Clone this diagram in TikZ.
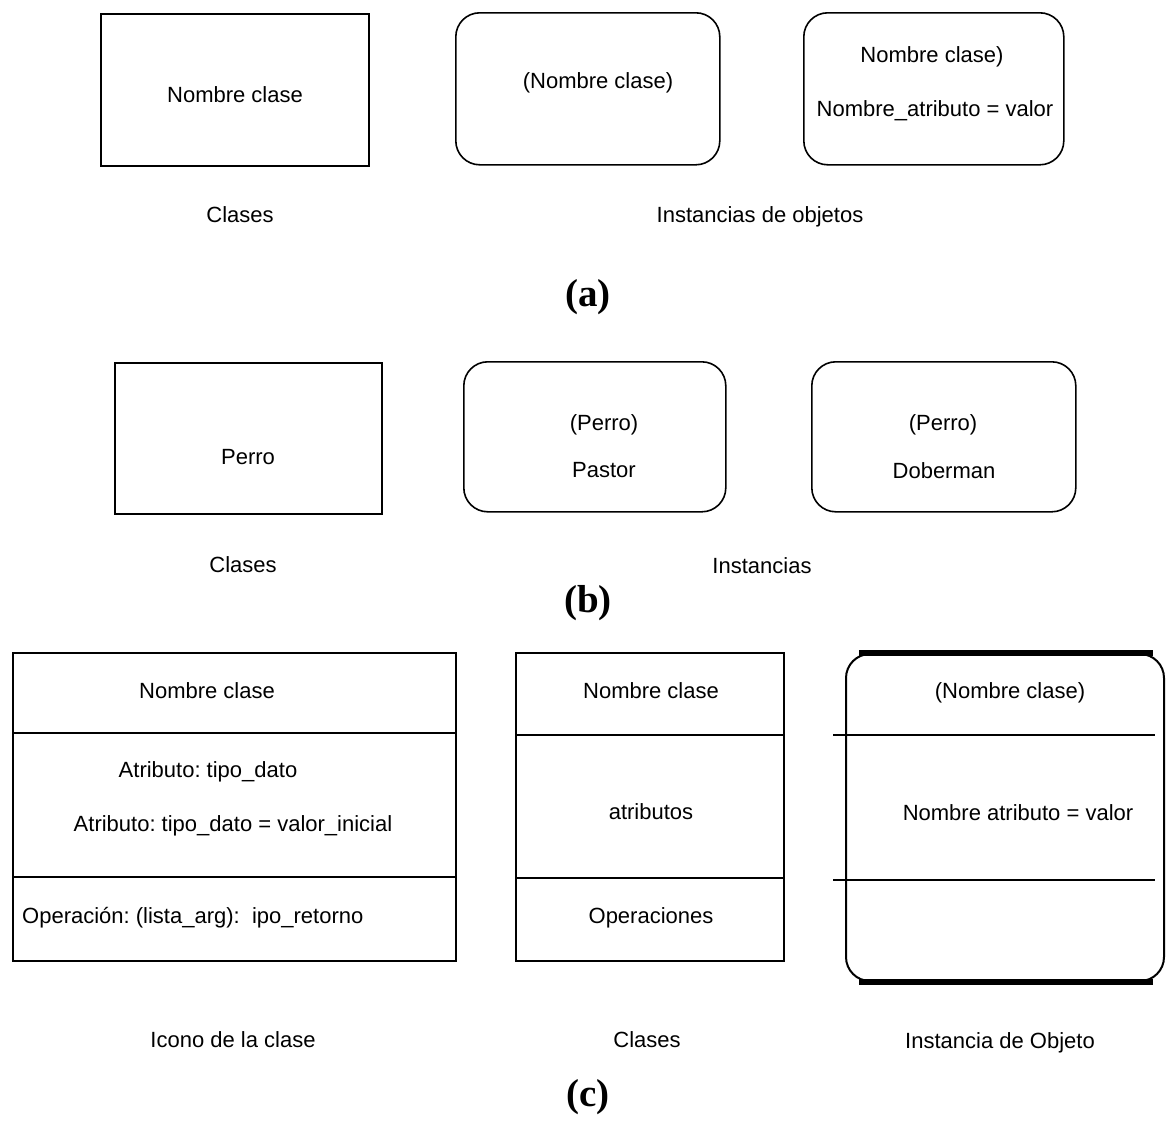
\documentclass[tikz,border=0pt]{standalone}
\usepackage{fontspec}
\setmainfont{Liberation Sans}
\newfontfamily\labelserif{Liberation Serif}
\frenchspacing
\begin{document}
\begin{tikzpicture}[x=1pt,y=-1pt,
  every node/.style={font=\fontsize{22}{26}\selectfont, inner sep=0pt},
  classbox/.style={draw, line width=1.6pt, rectangle, anchor=north west, inner sep=0pt},
  instbox/.style={classbox, rounded corners=24pt},
  txt/.style={anchor=center},
  part/.style={font=\labelserif\bfseries\fontsize{39}{44}\selectfont},
  sep/.style={line width=1.4pt}]
\useasboundingbox (0,0) rectangle (1167,1136);

% ---------- (a) ----------
\node[classbox, minimum width=268pt, minimum height=152pt] (a1) at (100,13) {};
\node[txt] (a1t) at (235,95) {Nombre clase};
\node[instbox, minimum width=264pt, minimum height=152pt] (a2) at (455,12) {};
\node[txt] (a2t) at (598,83) {(Nombre clase)};
\node[instbox, minimum width=260pt, minimum height=152pt] (a3) at (803,12) {};
\node[txt] (a3t1) at (932,57) {Nombre clase)};
\node[txt] (a3t2) at (935,111) {Nombre\_atributo = valor};
\node[txt] (a1l) at (240,215) {Clases};
\node[txt] (a2l) at (760,217) {Instancias de objetos};
\node[part] (pa) at (588,297) {(a)};

% ---------- (b) ----------
\node[classbox, minimum width=267pt, minimum height=151pt] (b1) at (114,362) {};
\node[txt] (b1t) at (248,457) {Perro};
\node[instbox, minimum width=262pt, minimum height=150pt] (b2) at (463,361) {};
\node[txt] (b2t1) at (604,425) {(Perro)};
\node[txt] (b2t2) at (604,470) {Pastor};
\node[instbox, minimum width=264pt, minimum height=150pt] (b3) at (811,361) {};
\node[txt] (b3t1) at (943,425) {(Perro)};
\node[txt] (b3t2) at (944,471) {Doberman};
\node[txt] (b1l) at (243,565) {Clases};
\node[txt] (b2l) at (762,566) {Instancias};
\node[part] (pb) at (588,603) {(b)};

% ---------- (c) ----------
% class icon with three compartments
\node[classbox, minimum width=443pt, minimum height=308pt] (c1) at (12,652) {};
\coordinate (c1s1) at (12,733);
\coordinate (c1s2) at (12,877);
\draw[sep] (c1s1) -- (c1s1 -| c1.east);
\draw[sep] (c1s2) -- (c1s2 -| c1.east);
\node[txt] (c1t1) at (207,691) {Nombre clase};
\node[txt] (c1t2) at (208,772) {Atributo: tipo\_dato};
\node[txt] (c1t3) at (233,826) {Atributo: tipo\_dato = valor\_inicial};
\node[anchor=west] (c1t4) at (22,918) {Operación: (lista\_arg):\ \ ipo\_retorno};

% class with three compartments
\node[classbox, minimum width=268pt, minimum height=308pt] (c2) at (515,652) {};
\coordinate (c2s1) at (515,735);
\coordinate (c2s2) at (515,878);
\draw[sep] (c2s1) -- (c2s1 -| c2.east);
\draw[sep] (c2s2) -- (c2s2 -| c2.east);
\node[txt] (c2t1) at (651,691) {Nombre clase};
\node[txt] (c2t2) at (651,812) {atributos};
\node[txt] (c2t3) at (651,918) {Operaciones};

% object instance with heavy top and bottom
\node[draw, line width=2pt, rounded corners=24pt, anchor=north west,
      minimum width=318pt, minimum height=327pt] (c3) at (845,653) {};
\draw[line width=6pt] ([xshift=14pt]c3.north west) -- ([xshift=-12pt]c3.north east);
\draw[line width=6pt] ([xshift=14pt]c3.south west) -- ([xshift=-12pt]c3.south east);
\coordinate (c3s1a) at (833,735);
\coordinate (c3s1b) at (1155,735);
\coordinate (c3s2a) at (833,880);
\coordinate (c3s2b) at (1155,880);
\draw[sep] (c3s1a) -- (c3s1b);
\draw[sep] (c3s2a) -- (c3s2b);
\node[txt] (c3t1) at (1010,693) {(Nombre clase)};
\node[txt] (c3t2) at (1018,813) {Nombre atributo = valor};

\node[txt] (c1l) at (233,1040) {Icono de la clase};
\node[txt] (c2l) at (647,1040) {Clases};
\node[txt] (c3l) at (1000,1043) {Instancia de Objeto};
\node[part] (pc) at (588,1097) {(c)};
\end{tikzpicture}
\end{document}
